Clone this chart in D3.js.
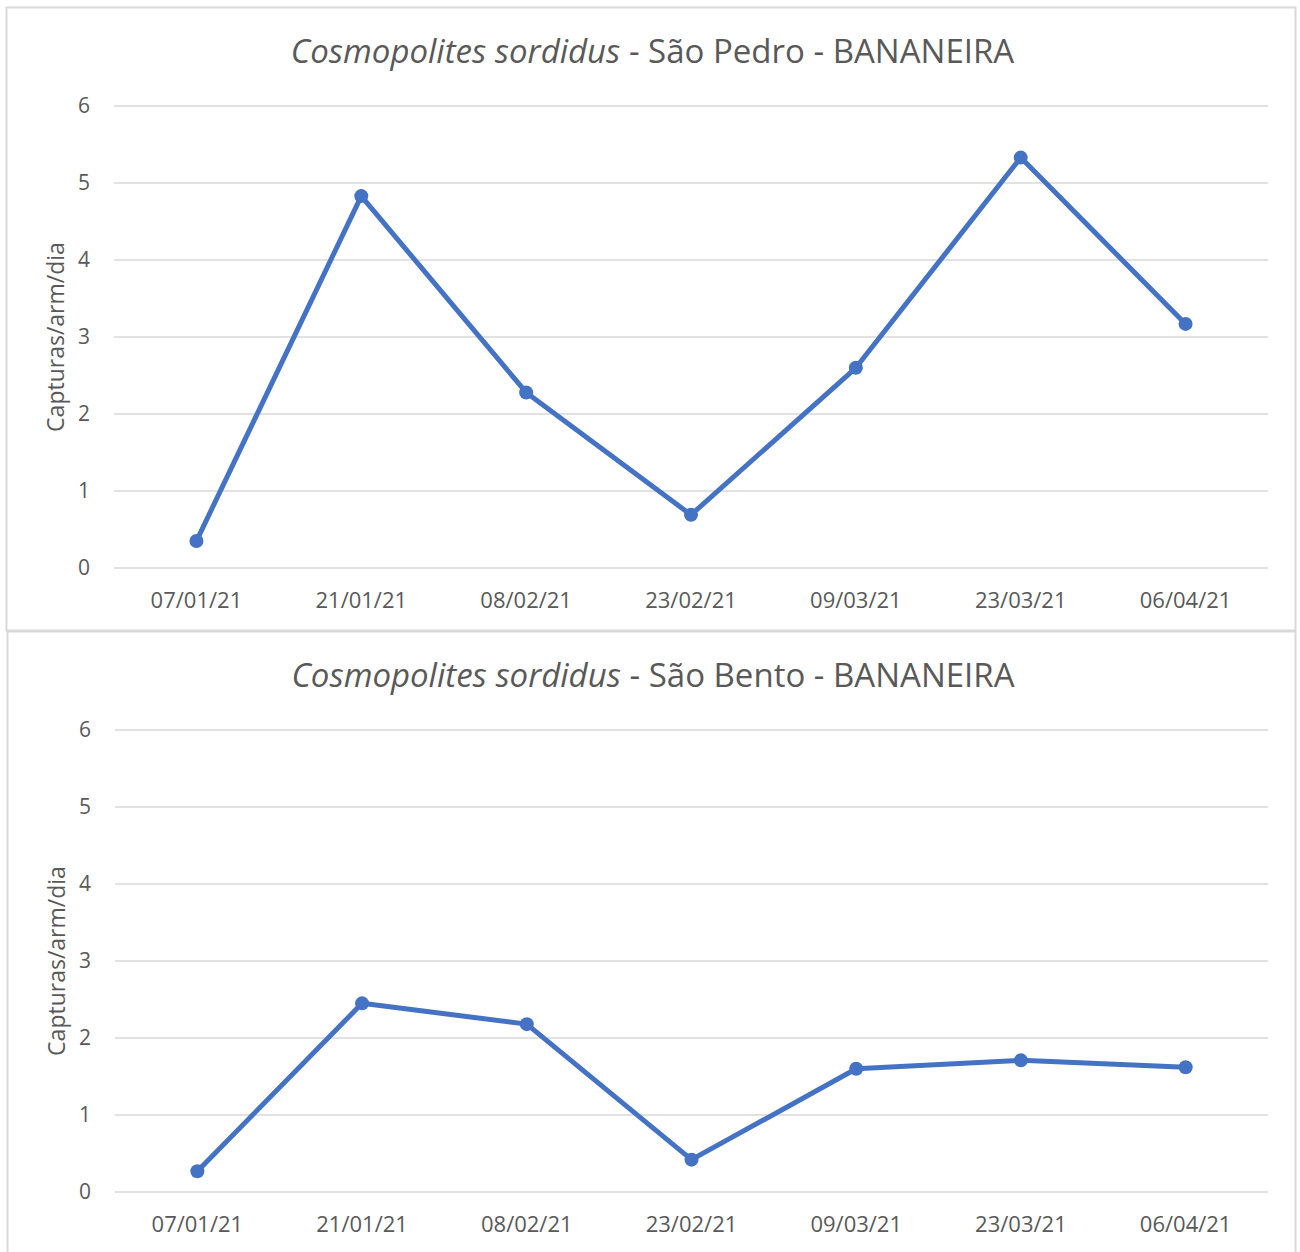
<!DOCTYPE html>
<html>
<head>
<meta charset="utf-8">
<script src="https://cdn.jsdelivr.net/npm/d3@7"></script>
<style>
  body { margin: 0; background: #fff; }
  text { font-family: "Open Sans", "Noto Sans", sans-serif; fill: #595959; }
</style>
</head>
<body>
<div id="chart"></div>
<script>
// data
const dates = ["07/01/21", "21/01/21", "08/02/21", "23/02/21", "09/03/21", "23/03/21", "06/04/21"];
const saoPedro = [0.35, 4.83, 2.28, 0.69, 2.6, 5.33, 3.17];
const saoBento = [0.27, 2.45, 2.18, 0.42, 1.6, 1.71, 1.62];
const yTicks = [0, 1, 2, 3, 4, 5, 6];

const width = 1300;
const height = 1252;

const svg = d3.select("#chart")
  .append("svg")
  .attr("width", width)
  .attr("height", height);

// one panel per site
function drawPanel(box, place, values) {
  const g = svg.append("g").attr("transform", `translate(${box.x},${box.y})`);

  // outer frame
  g.append("rect")
    .attr("x", 0.5)
    .attr("y", 0.5)
    .attr("width", box.w)
    .attr("height", box.h)
    .attr("fill", "white")
    .attr("stroke", "#d9d9d9")
    .attr("stroke-width", 2);

  const plot = { left: 108, right: box.w - 27, top: 99, bottom: 561 };

  const x = d3.scaleBand()
    .domain(dates)
    .range([plot.left, plot.right]);

  const y = d3.scaleLinear()
    .domain([0, 6])
    .range([plot.bottom, plot.top]);

  // gridlines
  g.selectAll(".grid")
    .data(yTicks)
    .enter()
    .append("line")
    .attr("x1", plot.left)
    .attr("x2", plot.right)
    .attr("y1", d => y(d))
    .attr("y2", d => y(d))
    .attr("stroke", "#d9d9d9")
    .attr("stroke-width", 1.5);

  // y tick labels
  g.selectAll(".ytick")
    .data(yTicks)
    .enter()
    .append("text")
    .attr("x", plot.left - 24)
    .attr("y", d => y(d))
    .attr("dy", "0.35em")
    .attr("text-anchor", "end")
    .style("font-size", "21px")
    .text(d => d);

  // x tick labels
  g.selectAll(".xtick")
    .data(dates)
    .enter()
    .append("text")
    .attr("x", d => x(d) + x.bandwidth() / 2)
    .attr("y", plot.bottom + 40)
    .attr("text-anchor", "middle")
    .style("font-size", "22px")
    .text(d => d);

  // y axis title
  g.append("text")
    .attr("transform", `translate(58,${(plot.top + plot.bottom) / 2}) rotate(-90)`)
    .attr("text-anchor", "middle")
    .style("font-size", "23px")
    .text("Capturas/arm/dia");

  // chart title, species in italics
  const title = g.append("text")
    .attr("x", box.w / 2 + 2)
    .attr("y", 56)
    .attr("text-anchor", "middle")
    .style("font-size", "33px");
  title.append("tspan").style("font-style", "italic").text("Cosmopolites sordidus");
  title.append("tspan").text(` - ${place} - BANANEIRA`);

  const line = d3.line()
    .x((d, i) => x(dates[i]) + x.bandwidth() / 2)
    .y(d => y(d));

  g.append("path")
    .datum(values)
    .attr("d", line)
    .attr("fill", "none")
    .attr("stroke", "#4472C4")
    .attr("stroke-width", 5)
    .attr("stroke-linejoin", "round");

  g.selectAll(".dot")
    .data(values)
    .enter()
    .append("circle")
    .attr("cx", (d, i) => x(dates[i]) + x.bandwidth() / 2)
    .attr("cy", d => y(d))
    .attr("r", 7)
    .attr("fill", "#4472C4");
}

drawPanel({ x: 6, y: 7, w: 1289, h: 623 }, "São Pedro", saoPedro);
drawPanel({ x: 7, y: 631, w: 1288, h: 630 }, "São Bento", saoBento);
</script>
</body>
</html>
